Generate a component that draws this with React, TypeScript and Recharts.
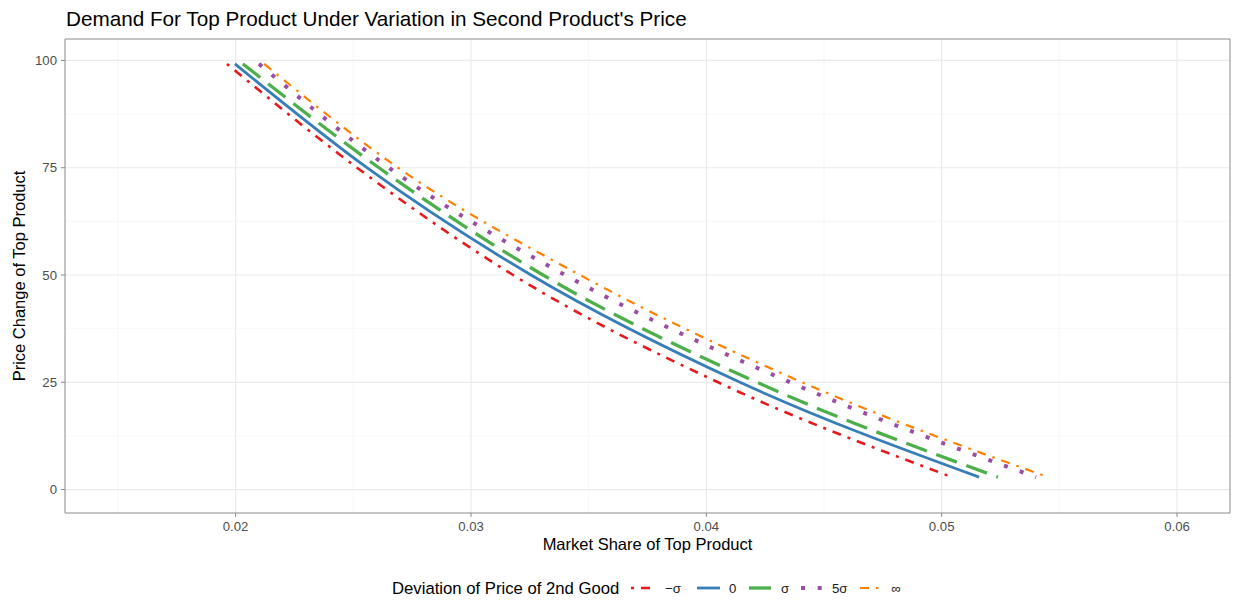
import React from 'react';
import { LineChart, Line, XAxis, YAxis, CartesianGrid, ReferenceArea } from 'recharts';

// Price change of top product (y) at which each market share was read
const priceChange = [99.2, 75, 50, 25, 2.9];
// Market share of top product for each deviation of 2nd good price
const shareMinusSigma = [0.01963, 0.02516, 0.03179, 0.0405, 0.05044];
const shareZero = [0.01997, 0.02558, 0.03255, 0.04143, 0.05159];
const shareSigma = [0.02031, 0.02609, 0.03306, 0.04215, 0.05239];
const shareFiveSigma = [0.02099, 0.02652, 0.034, 0.04356, 0.05401];
const shareInfinity = [0.02121, 0.0269, 0.03463, 0.04407, 0.05452];

const seriesLabels = ['\u2212\u03c3', '0', '\u03c3', '5\u03c3', '\u221e'];
const xTicks = [0.02, 0.03, 0.04, 0.05, 0.06];
const xMinor = [0.015, 0.025, 0.035, 0.045, 0.055];
const yTicks = [0, 25, 50, 75, 100];
const yMinor = [12.5, 37.5, 62.5, 87.5];

const X_DOMAIN: [number, number] = [0.01275, 0.06225];
const Y_DOMAIN: [number, number] = [-5.46, 105];

const FONT = '"Liberation Sans", Arial, Helvetica, sans-serif';

const styles = [
  { color: '#E41A1C', dash: '3 7 9 7', width: 2.6 },
  { color: '#377EB8', dash: undefined, width: 2.8 },
  { color: '#4DAF4A', dash: '22 10', width: 3.3 },
  { color: '#984EA3', dash: '4 12.7', width: 4 },
  { color: '#FF7F00', dash: '9 7 2.5 7', width: 2.2 },
];

const build = (xs: number[]) => xs.map((x, i) => ({ x, y: priceChange[i] }));
const seriesData = [
  build(shareMinusSigma),
  build(shareZero),
  build(shareSigma),
  build(shareFiveSigma),
  build(shareInfinity),
];

const legendKeyX = [631, 697, 749, 801, 860];
const legendLabelX = [665, 729, 781, 832, 891];

export default function App() {
  return (
    <div style={{ position: 'absolute', left: 0, top: 0, width: 1233, height: 601, background: '#fff' }}>
      <LineChart
        width={1233}
        height={601}
        margin={{ top: 39, right: 3, bottom: 0, left: 0 }}
        style={{ fontFamily: FONT }}
      >
        <CartesianGrid
          verticalValues={xMinor}
          horizontalValues={yMinor}
          stroke="#f3f3f3"
          strokeWidth={0.7}
        />
        <CartesianGrid
          verticalValues={xTicks}
          horizontalValues={yTicks}
          stroke="#ebebeb"
          strokeWidth={1.2}
        />
        <XAxis
          type="number"
          dataKey="x"
          domain={X_DOMAIN}
          ticks={xTicks}
          allowDataOverflow
          height={88}
          tickSize={4}
          tickMargin={5}
          axisLine={false}
          tickLine={{ stroke: '#888' }}
          tick={{ fill: '#4d4d4d', fontSize: 13.2, fontFamily: FONT }}
          tickFormatter={(v: number) => v.toFixed(2)}
        />
        <YAxis
          type="number"
          dataKey="y"
          domain={Y_DOMAIN}
          ticks={yTicks}
          allowDataOverflow
          width={65}
          tickSize={4}
          tickMargin={4}
          axisLine={false}
          tickLine={{ stroke: '#888' }}
          tick={{ fill: '#4d4d4d', fontSize: 13.2, fontFamily: FONT }}
        />
        {seriesData.map((d, i) => (
          <Line
            key={seriesLabels[i]}
            data={d}
            dataKey="y"
            name={seriesLabels[i]}
            type="monotone"
            stroke={styles[i].color}
            strokeWidth={styles[i].width}
            strokeDasharray={styles[i].dash}
            dot={false}
            activeDot={false}
            isAnimationActive={false}
          />
        ))}
        <ReferenceArea
          x1={X_DOMAIN[0]}
          x2={X_DOMAIN[1]}
          y1={Y_DOMAIN[0]}
          y2={Y_DOMAIN[1]}
          fill="none"
          stroke="#8a8a8a"
          strokeWidth={1}
          ifOverflow="visible"
        />
      </LineChart>
      <svg
        width={1233}
        height={601}
        style={{ position: 'absolute', left: 0, top: 0, pointerEvents: 'none', fontFamily: FONT }}
      >
        <text x={66} y={26} fontSize={20.7} fill="#000">
          Demand For Top Product Under Variation in Second Product's Price
        </text>
        <text x={647.5} y={550} fontSize={16.5} fill="#000" textAnchor="middle">
          Market Share of Top Product
        </text>
        <text
          x={0}
          y={0}
          fontSize={16.5}
          fill="#000"
          textAnchor="middle"
          transform="translate(25 276) rotate(-90)"
        >
          Price Change of Top Product
        </text>
        <text x={392} y={594} fontSize={16.7} fill="#000">
          Deviation of Price of 2nd Good
        </text>
        {styles.map((s, i) => (
          <g key={i}>
            <line
              x1={legendKeyX[i]}
              x2={legendKeyX[i] + 23}
              y1={588}
              y2={588}
              stroke={s.color}
              strokeWidth={s.width}
              strokeDasharray={s.dash}
            />
            <text x={legendLabelX[i]} y={592.5} fontSize={13.2} fill="#1a1a1a">
              {seriesLabels[i]}
            </text>
          </g>
        ))}
      </svg>
    </div>
  );
}
